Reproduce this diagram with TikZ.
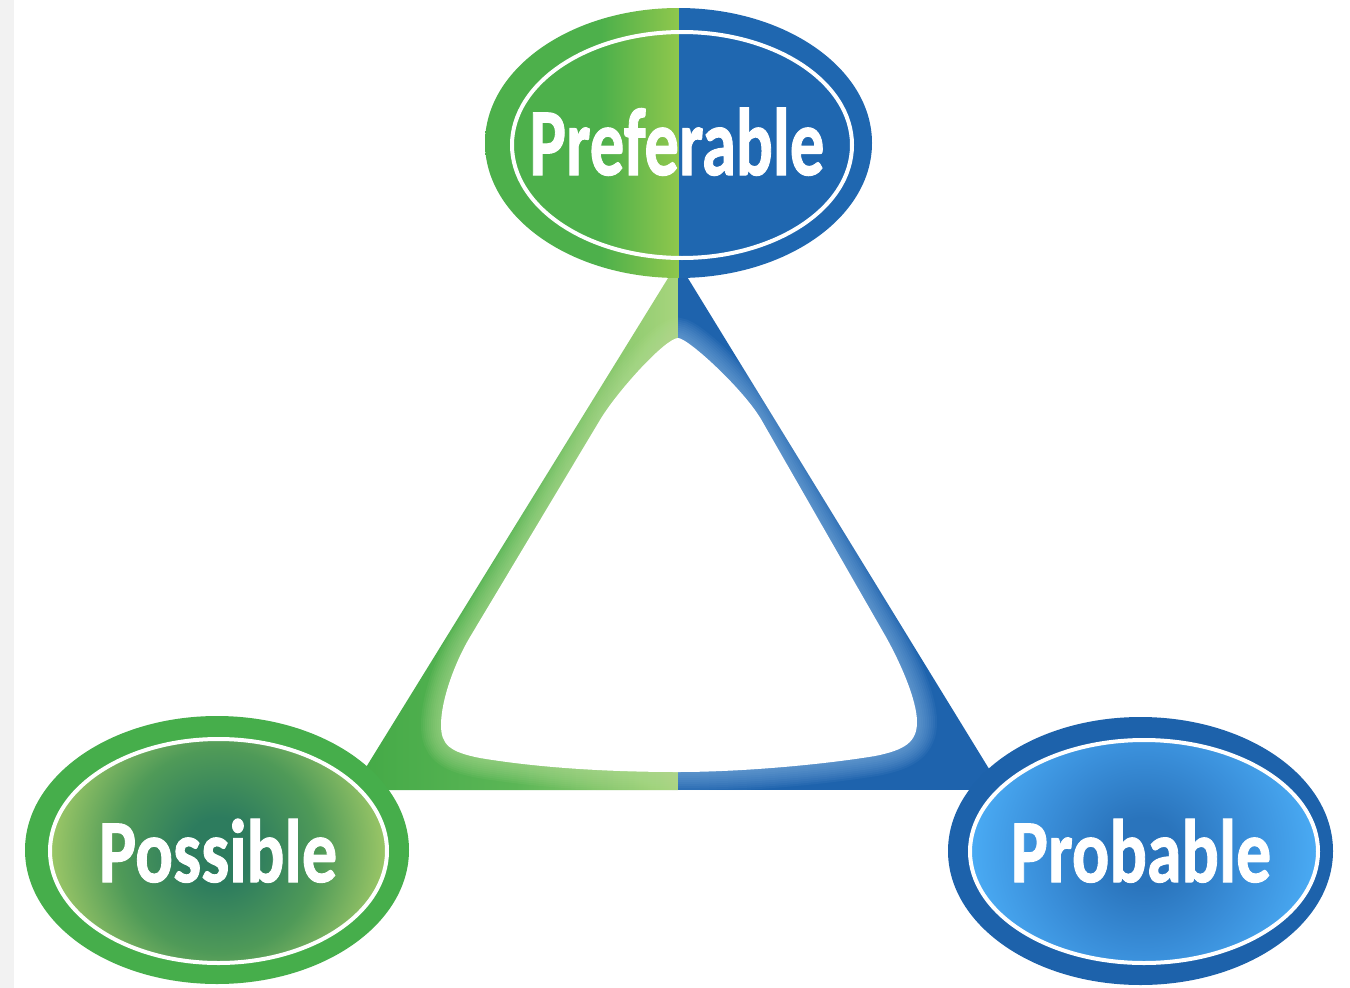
\documentclass[tikz,border=0pt]{standalone}
\usepackage{fontspec}
\usepackage{graphicx}
\newfontfamily\lblfont{Carlito}[BoldFeatures={FakeBold=1.2}]
\definecolor{leftgray}{HTML}{F2F2F2}
\definecolor{ringgreen}{HTML}{46AE4B}
\definecolor{prefblue}{HTML}{1F67B0}
\definecolor{probring}{HTML}{1D62AB}
\definecolor{pgLa}{HTML}{4DB04B}
\definecolor{pgLb}{HTML}{8FC74C}
\definecolor{bla}{HTML}{43A946}
\definecolor{blm}{HTML}{5BB656}
\definecolor{blb}{HTML}{A8D57D}
\definecolor{bandblue}{HTML}{1E63AD}
\definecolor{glowgreen}{HTML}{B8E09A}
\definecolor{glowblue}{HTML}{8DBBE5}
\definecolor{psa}{HTML}{2D7C5E}
\definecolor{psb}{HTML}{4F9A58}
\definecolor{psc}{HTML}{9CC767}
\definecolor{pba}{HTML}{2A74BC}
\definecolor{pbb}{HTML}{3A8FDA}
\definecolor{pbc}{HTML}{4AABF4}
\pgfdeclarehorizontalshading{prefleft}{100bp}{color(0bp)=(pgLa); color(25bp)=(pgLa); color(55bp)=(pgLa); color(75bp)=(pgLb); color(100bp)=(pgLb)}
\pgfdeclarehorizontalshading{bandleft}{100bp}{color(0bp)=(bla); color(25bp)=(bla); color(50bp)=(blm); color(75bp)=(blb); color(100bp)=(blb)}
\pgfdeclareradialshading{possh}{\pgfpointorigin}{color(0bp)=(psa); color(5bp)=(psa); color(15bp)=(psb); color(25bp)=(psc); color(50bp)=(psc)}
\pgfdeclareradialshading{probsh}{\pgfpointorigin}{color(0bp)=(pba); color(5bp)=(pba); color(15bp)=(pbb); color(25bp)=(pbc); color(50bp)=(pbc)}
\newcommand\holeshape{(678,338) .. controls (688,338) and (744.3,390) .. (761.5,420)
  -- (886,637)
  .. controls (900,662) and (917,700) .. (917,722)
  .. controls (917,742) and (905,750) .. (875,756)
  .. controls (820,765) and (740,772) .. (678,772)
  .. controls (610,772) and (540,768) .. (480,758)
  .. controls (450,752) and (441,745) .. (441,725)
  .. controls (441,700) and (455,662) .. (470,637)
  -- (600,420)
  .. controls (618,390) and (666,338) .. (678,338) -- cycle}
\begin{document}
\begin{tikzpicture}[x=1pt,y=-1pt,
  lbl/.style={text=white, inner sep=0pt, anchor=base},
  bigfont/.style={font={\lblfont\bfseries\fontsize{96}{96}\selectfont}},
  smallfont/.style={font={\lblfont\bfseries\fontsize{90}{90}\selectfont}},
  ringline/.style={draw=white, line width=4pt}]
\useasboundingbox (0,0) rectangle (1350,988);
\fill[white] (0,0) rectangle (1350,988);
\fill[leftgray] (0,0) rectangle (14,988);
% triangle band
\coordinate (A) at (678,262);
\coordinate (B) at (352,790);
\coordinate (C) at (1002,790);
\coordinate (M) at (678,790);
\begin{scope}
  \clip (A) -- (B) -- (M) -- cycle;
  \shade[shading=bandleft] (352,262) rectangle (678,790);
  \foreach \w in {40,36,...,4} {\draw[line width=\w pt, glowgreen, opacity=0.08] \holeshape;}
\end{scope}
\begin{scope}
  \clip (A) -- (M) -- (C) -- cycle;
  \fill[bandblue] (678,262) rectangle (1002,790);
  \foreach \w in {40,36,...,4} {\draw[line width=\w pt, glowblue, opacity=0.08] \holeshape;}
\end{scope}
\fill[white] \holeshape;
% top ellipse
\begin{scope}
  \clip (678.5,143) ellipse [x radius=193.5pt, y radius=135pt];
  \shade[shading=prefleft] (485,0) rectangle (678.5,290);
  \fill[prefblue] (678.5,0) rectangle (880,290);
\end{scope}
\draw[ringline] (682,145) ellipse [x radius=170pt, y radius=113pt];
% possible
\fill[ringgreen] (217,850) ellipse [x radius=192pt, y radius=134pt];
\begin{scope}
  \clip (218.5,851) ellipse [x radius=168.5pt, y radius=112pt];
  \shade[shading=possh] (50,681) rectangle (387,1021);
\end{scope}
\draw[ringline] (218.5,851) ellipse [x radius=168.5pt, y radius=112pt];
% probable
\fill[probring] (1140.5,851) ellipse [x radius=192.5pt, y radius=134pt];
\begin{scope}
  \clip (1144,851.5) ellipse [x radius=174pt, y radius=111.5pt];
  \shade[shading=probsh] (970,681) rectangle (1318,1022);
\end{scope}
\draw[ringline] (1144,851.5) ellipse [x radius=174pt, y radius=111.5pt];
% labels
\node[lbl, bigfont] (pref) at (677,175) {\scalebox{0.717}[1]{Preferable}};
\node[lbl, smallfont] (poss) at (218,882) {\scalebox{0.783}[1]{Possible}};
\node[lbl, smallfont] (prob) at (1141,882) {\scalebox{0.776}[1]{Probable}};
\end{tikzpicture}
\end{document}
